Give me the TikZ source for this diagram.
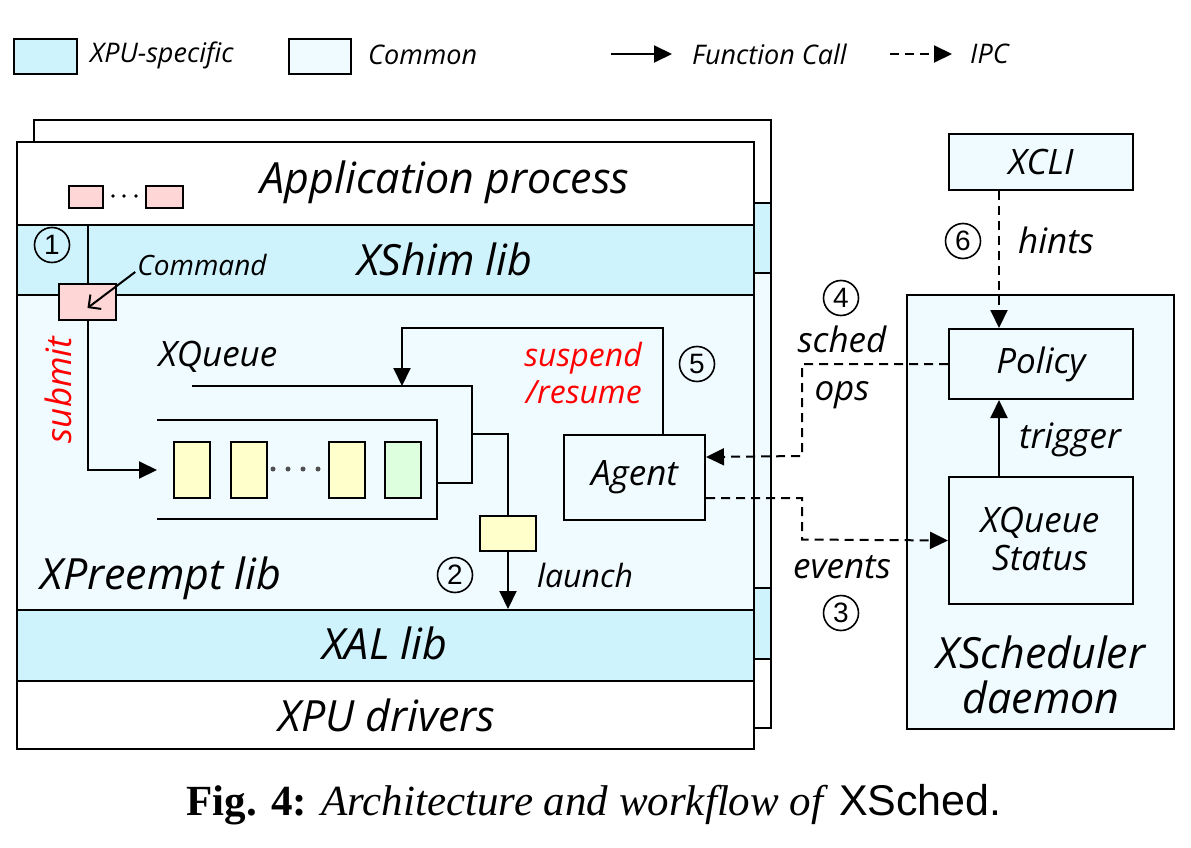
\documentclass[tikz,border=0pt]{standalone}
\usepackage{fontspec}
\setmainfont{Liberation Serif}
\newfontfamily\hand{Open Sans}
\newfontfamily\numfont{Liberation Sans}
\newfontfamily\capsans{Liberation Sans}
\usetikzlibrary{arrows.meta}
\definecolor{xpuc}{RGB}{207,243,252}
\definecolor{comc}{RGB}{240,251,255}
\definecolor{pinkc}{RGB}{255,214,214}
\definecolor{yelc}{RGB}{255,255,204}
\definecolor{grnc}{RGB}{221,255,221}
\definecolor{dotc}{RGB}{80,80,80}
\tikzset{
  lay/.style={draw, line width=2pt, inner sep=0pt, anchor=north west},
  fc/.style={line width=2pt, -{Triangle[length=18pt,width=17pt]}},
  ipc/.style={line width=2pt, dash pattern=on 9pt off 6pt, -{Triangle[length=18pt,width=17pt]}},
  plain/.style={line width=2pt},
  big/.style={font=\hand\itshape\fontsize{43}{47}\selectfont, inner sep=0pt},
  mid/.style={font=\hand\itshape\fontsize{35}{39}\selectfont, inner sep=0pt},
  redt/.style={font=\hand\itshape\fontsize{32}{36}\selectfont, inner sep=0pt, text=red},
  leg/.style={font=\hand\itshape\fontsize{27}{31}\selectfont, inner sep=0pt},
  sml/.style={font=\hand\itshape\fontsize{28}{32}\selectfont, inner sep=0pt},
  circ/.style={draw, circle, line width=1.6pt, minimum size=35pt, inner sep=0pt, font=\numfont\fontsize{28}{28}\selectfont},
}
\begin{document}
\begin{tikzpicture}[x=1pt,y=-1pt]
\useasboundingbox (0,0) rectangle (1191,848);
\fill[white] (0,0) rectangle (1191,848);

% legend
\node[lay, fill=xpuc, minimum width=63pt, minimum height=35pt] (lxpu) at (13,38) {};
\node[leg, anchor=west] (lxput) at (90,55) {XPU-specific};
\node[lay, fill=comc, minimum width=62pt, minimum height=35pt] (lcom) at (288,38) {};
\node[leg, anchor=west] (lcomt) at (368,55) {Common};
\coordinate (lfa) at (611,54);
\coordinate (lfb) at (672,54);
\draw[fc] (lfa) -- (lfb);
\node[leg, anchor=west] (lfct) at (692,54) {Function Call};
\coordinate (lia) at (890,54);
\coordinate (lib) at (952,54);
\draw[ipc] (lia) -- (lib);
\node[leg, anchor=west] (lipct) at (970,54) {IPC};

% back process stack
\node[lay, fill=white, minimum width=737pt, minimum height=83pt] (bapp) at (33,119) {};
\node[lay, fill=xpuc, minimum width=737pt, minimum height=70pt] (bxshim) at (33,202) {};
\node[lay, fill=comc, minimum width=737pt, minimum height=315pt] (bxpre) at (33,272) {};
\node[lay, fill=xpuc, minimum width=737pt, minimum height=71pt] (bxal) at (33,587) {};
\node[lay, fill=white, minimum width=737pt, minimum height=69pt] (bdrv) at (33,658) {};

% front process stack
\node[lay, fill=white, minimum width=737pt, minimum height=83pt] (app) at (16,141) {};
\node[lay, fill=xpuc, minimum width=737pt, minimum height=70pt] (xshim) at (16,224) {};
\node[lay, fill=comc, minimum width=737pt, minimum height=315pt] (xpre) at (16,294) {};
\node[lay, fill=xpuc, minimum width=737pt, minimum height=71pt] (xal) at (16,609) {};
\node[lay, fill=white, minimum width=737pt, minimum height=68pt] (drv) at (16,680) {};

\node[big] (appt) at (445,182) {Application process};
\node[big] (xshimt) at (445,259) {XShim lib};
\node[big] (xpret) at (161,578) {XPreempt lib};
\node[big] (xalt) at (385,643) {XAL lib};
\node[big] (drvt) at (387,715) {XPU drivers};

% small commands in app
\node[lay, line width=1.5pt, fill=pinkc, minimum width=34pt, minimum height=22pt] (p1) at (68,185) {};
\node[lay, line width=1.5pt, fill=pinkc, minimum width=37pt, minimum height=22pt] (p2) at (145,185) {};
\fill (113,196) circle (1.8) (124,196) circle (1.8) (136,196) circle (1.8);

% command
\node[lay, fill=pinkc, minimum width=57pt, minimum height=36pt] (cmd) at (58,283) {};
\draw[plain] (cmd.north |- xshim.north) -- (cmd.north);
\node[sml] (cmdlbl) at (202,265) {Command};
\draw[line width=2pt, -{Straight Barb[length=9pt,width=18pt]}] ([xshift=-2pt,yshift=-7pt]cmdlbl.west) -- ([yshift=-6pt]cmd.center);
\node[circ] (c1) at (52,245) {1};

% submit
\coordinate (qin) at (157,470);
\draw[fc] (cmd.south) |- (qin);
\node[mid, text=red, rotate=90] (subt) at (58,390) {submit};

% queue
\node[mid] (xqt) at (218,357) {XQueue};
\draw[plain] (192,386) -- (472,386) -- (472,483) -- (437,483);
\draw[plain] (157,420) -- (437,420) -- (437,519) -- (157,519);
\node[lay, fill=yelc, minimum width=36pt, minimum height=56pt] (q1) at (173,441) {};
\node[lay, fill=yelc, minimum width=36pt, minimum height=56pt] (q2) at (230,441) {};
\node[lay, fill=yelc, minimum width=36pt, minimum height=56pt] (q3) at (328,441) {};
\node[lay, fill=grnc, minimum width=36pt, minimum height=56pt] (q4) at (384,441) {};
\fill[dotc] (273,469) circle (2.5) (288,469) circle (2.5) (303,469) circle (2.5) (318,469) circle (2.5);

% launch
\node[lay, fill=yelc, minimum width=56pt, minimum height=35pt] (ybox) at (479,515) {};
\coordinate (qout) at (472,434);
\draw[plain] (qout) -| (ybox.north);
\draw[fc] (ybox.south) -- (ybox.south |- xal.north);
\node[circ] (c2) at (455,575) {2};
\node[redt, text=black] (launcht) at (585,575) {launch};

% agent
\node[lay, fill=comc, minimum width=141pt, minimum height=85pt] (agent) at (563,434) {};
\node[mid] (agentt) at (agent.center) {Agent};
\coordinate (qtop) at (402,386);
\draw[fc] ([xshift=28.5pt]agent.north) |- (402,328) -- (qtop);
\node[redt, anchor=east] (susp) at (642,358) {suspend};
\node[redt, anchor=east] (resm) at (642,392) {/resume};
\node[circ] (c5) at (697,364) {5};

% scheduler side
\node[lay, fill=comc, minimum width=184pt, minimum height=56pt] (xcli) at (948,133) {};
\node[mid] (xclit) at (xcli.center) {XCLI};
\node[lay, fill=comc, minimum width=267pt, minimum height=434pt] (daemon) at (906,294) {};
\node[lay, fill=comc, minimum width=184pt, minimum height=70pt] (policy) at (948,328) {};
\node[mid] (policyt) at (policy.center) {Policy};
\node[lay, fill=comc, minimum width=184pt, minimum height=127pt] (status) at (948,476) {};
\node[mid] (statust1) at (1040,523) {XQueue};
\node[mid] (statust2) at (1040,558) {Status};
\node[big] (daemt1) at (1041,652) {XScheduler};
\node[big] (daemt2) at (1041,697) {daemon};

\draw[ipc] ([xshift=-42pt]xcli.south) -- ([xshift=-42pt]policy.north);
\node[circ] (c6) at (963,241) {6};
\node[mid] (hintst) at (1056,240) {hints};

\draw[fc] ([xshift=-42pt]status.north) -- ([xshift=-42pt]policy.south);
\node[mid] (trigt) at (1070,440) {trigger};

\coordinate (sw1) at (802,456);
\draw[ipc] (policy.west) -| (sw1) -- ([yshift=20.5pt]agent.east);
\node[circ] (c4) at (841,298) {4};
\node[mid] (schedt) at (842,339) {sched};
\node[mid] (opst) at (842,395) {ops};

\coordinate (sw2) at (802,539.5);
\draw[ipc] ([yshift=-20.5pt]agent.east) -| (sw2) -- (status.west);
\node[mid] (evt) at (842,567) {events};
\node[circ] (c3) at (841,613) {3};

% caption
\node[inner sep=0pt, font=\fontsize{43}{47}\selectfont] (cap) at (594,805) {\textbf{Fig. 4:} \textit{Architecture and workflow of} {\capsans XSched.}};
\end{tikzpicture}
\end{document}
